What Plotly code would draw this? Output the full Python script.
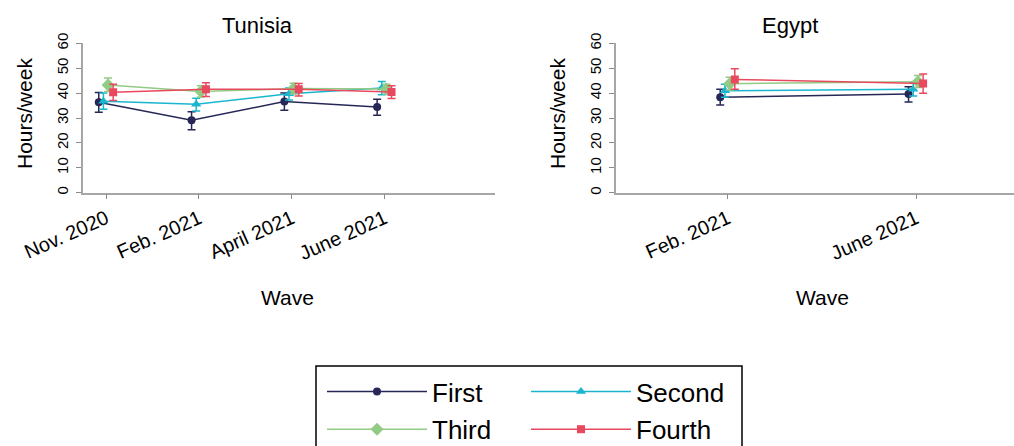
import plotly.graph_objects as go

# ---------------- data ----------------
tun_waves = ["Nov. 2020", "Feb. 2021", "April 2021", "June 2021"]
egy_waves = ["Feb. 2021", "June 2021"]
series = ["First", "Second", "Third", "Fourth"]

tun_mean = {
    "First":  [36.3, 29.1, 36.6, 34.4],
    "Second": [36.7, 35.5, 39.7, 42.0],
    "Third":  [43.3, 40.6, 41.8, 41.6],
    "Fourth": [40.3, 41.5, 41.5, 40.4],
}
tun_lo = {
    "First":  [32.3, 25.3, 33.1, 31.1],
    "Second": [33.5, 32.8, 37.2, 39.3],
    "Third":  [40.6, 38.4, 39.6, 39.6],
    "Fourth": [37.0, 38.6, 38.8, 37.8],
}
tun_hi = {
    "First":  [40.2, 32.5, 40.0, 37.5],
    "Second": [40.0, 37.9, 42.0, 44.7],
    "Third":  [46.1, 43.0, 44.0, 43.6],
    "Fourth": [43.6, 44.2, 43.9, 43.0],
}
egy_mean = {
    "First":  [38.3, 39.6],
    "Second": [40.9, 41.5],
    "Third":  [43.8, 44.6],
    "Fourth": [45.5, 43.9],
}
egy_lo = {
    "First":  [35.2, 36.4],
    "Second": [38.3, 38.8],
    "Third":  [41.2, 42.2],
    "Fourth": [41.5, 39.9],
}
egy_hi = {
    "First":  [41.5, 42.6],
    "Second": [43.6, 44.3],
    "Third":  [46.4, 47.1],
    "Fourth": [49.8, 47.7],
}
y_ticks = [0, 10, 20, 30, 40, 50, 60]

# ---------------- style ----------------
tun_pos = [1, 2, 3, 4]
egy_pos = [2, 4]
offset = {"First": -0.08, "Second": -0.03, "Third": 0.02, "Fourth": 0.075}
color = {"First": "#262756", "Second": "#1ab6cf", "Third": "#92cb84", "Fourth": "#e9495f"}
symbol = {"First": "circle", "Second": "triangle-up", "Third": "diamond", "Fourth": "square"}
msize = {"First": 8, "Second": 9, "Third": 10, "Fourth": 8}
legend_of = {"First": "legend", "Second": "legend2", "Third": "legend", "Fourth": "legend2"}
FONT = "Liberation Sans, Arial, sans-serif"

fig = go.Figure()

def add(xpos, mean, lo, hi, xa, ya, show):
    for s in series:
        xs = [p + offset[s] for p in xpos]
        plus = [h - m for h, m in zip(hi[s], mean[s])]
        minus = [m - l for m, l in zip(mean[s], lo[s])]
        fig.add_trace(go.Scatter(
            x=xs, y=mean[s], mode="lines+markers", name=s,
            xaxis=xa, yaxis=ya, showlegend=show, legendgroup=s,
            legend=legend_of[s],
            line=dict(color=color[s], width=1.5),
            marker=dict(symbol=symbol[s], size=msize[s], color=color[s]),
            error_y=dict(type="data", array=plus, arrayminus=minus,
                         color=color[s], thickness=1.5, width=4),
        ))

add(tun_pos, tun_mean, tun_lo, tun_hi, "x", "y", True)
add(egy_pos, egy_mean, egy_lo, egy_hi, "x2", "y2", False)

W, H = 1014, 446
ydom = [1 - 192.7 / H, 1 - 43.3 / H]
axis_common = dict(showgrid=False, zeroline=False, showline=True, linecolor="#a6a6a6",
                   linewidth=1.5, ticks="outside", ticklen=5, tickcolor="#8a8a8a",
                   tickwidth=1.2, tickfont=dict(family=FONT, size=20, color="black"))
yfont = dict(family=FONT, size=15, color="black")

fig.update_layout(
    width=W, height=H, margin=dict(l=0, r=0, t=0, b=0, autoexpand=False),
    paper_bgcolor="white", plot_bgcolor="white",
    font=dict(family=FONT, color="black"),
    xaxis=dict(domain=[83 / W, 495 / W], range=[0.75, 5.19], tickvals=tun_pos,
               ticktext=tun_waves, tickangle=-24, anchor="y", **axis_common),
    yaxis=dict(domain=ydom, range=[0, 60], tickvals=y_ticks, tickangle=-90,
               anchor="x", ticklabelstandoff=2, **{**axis_common, "tickfont": yfont}),
    xaxis2=dict(domain=[615.7 / W, 1.0], range=[0.81, 5.04], tickvals=egy_pos,
                ticktext=egy_waves, tickangle=-24, anchor="y2", **axis_common),
    yaxis2=dict(domain=ydom, range=[0, 60], tickvals=y_ticks, tickangle=-90,
                anchor="x2", ticklabelstandoff=2, **{**axis_common, "tickfont": yfont}),
    legend=dict(x=322 / W, xanchor="left", y=1 - 368 / H, yanchor="top",
                orientation="v", font=dict(family=FONT, size=26), tracegroupgap=1,
                itemwidth=100, bgcolor="rgba(0,0,0,0)"),
    legend2=dict(x=526 / W, xanchor="left", y=1 - 368 / H, yanchor="top",
                 orientation="v", font=dict(family=FONT, size=26), tracegroupgap=1,
                 itemwidth=100, bgcolor="rgba(0,0,0,0)"),
    shapes=[dict(type="rect", xref="paper", yref="paper", x0=316 / W, x1=742 / W,
                 y0=-0.05, y1=1 - 366 / H, line=dict(color="black", width=1.5))],
)

ann = [
    dict(text="Tunisia", x=257 / W, y=1 - 26 / H, size=22),
    dict(text="Egypt", x=790 / W, y=1 - 26 / H, size=22),
    dict(text="Wave", x=287 / W, y=1 - 297 / H, size=21),
    dict(text="Wave", x=822 / W, y=1 - 297 / H, size=21),
    dict(text="Hours/week", x=24 / W, y=1 - 114 / H, size=21, textangle=-90),
    dict(text="Hours/week", x=557 / W, y=1 - 114 / H, size=21, textangle=-90),
]
for a in ann:
    size = a.pop("size")
    fig.add_annotation(xref="paper", yref="paper", showarrow=False,
                       xanchor="center", yanchor="middle",
                       font=dict(family=FONT, size=size, color="black"), **a)

fig.write_html("out.html", config={"displayModeBar": False},
               post_script="document.body.style.margin='0px';")
